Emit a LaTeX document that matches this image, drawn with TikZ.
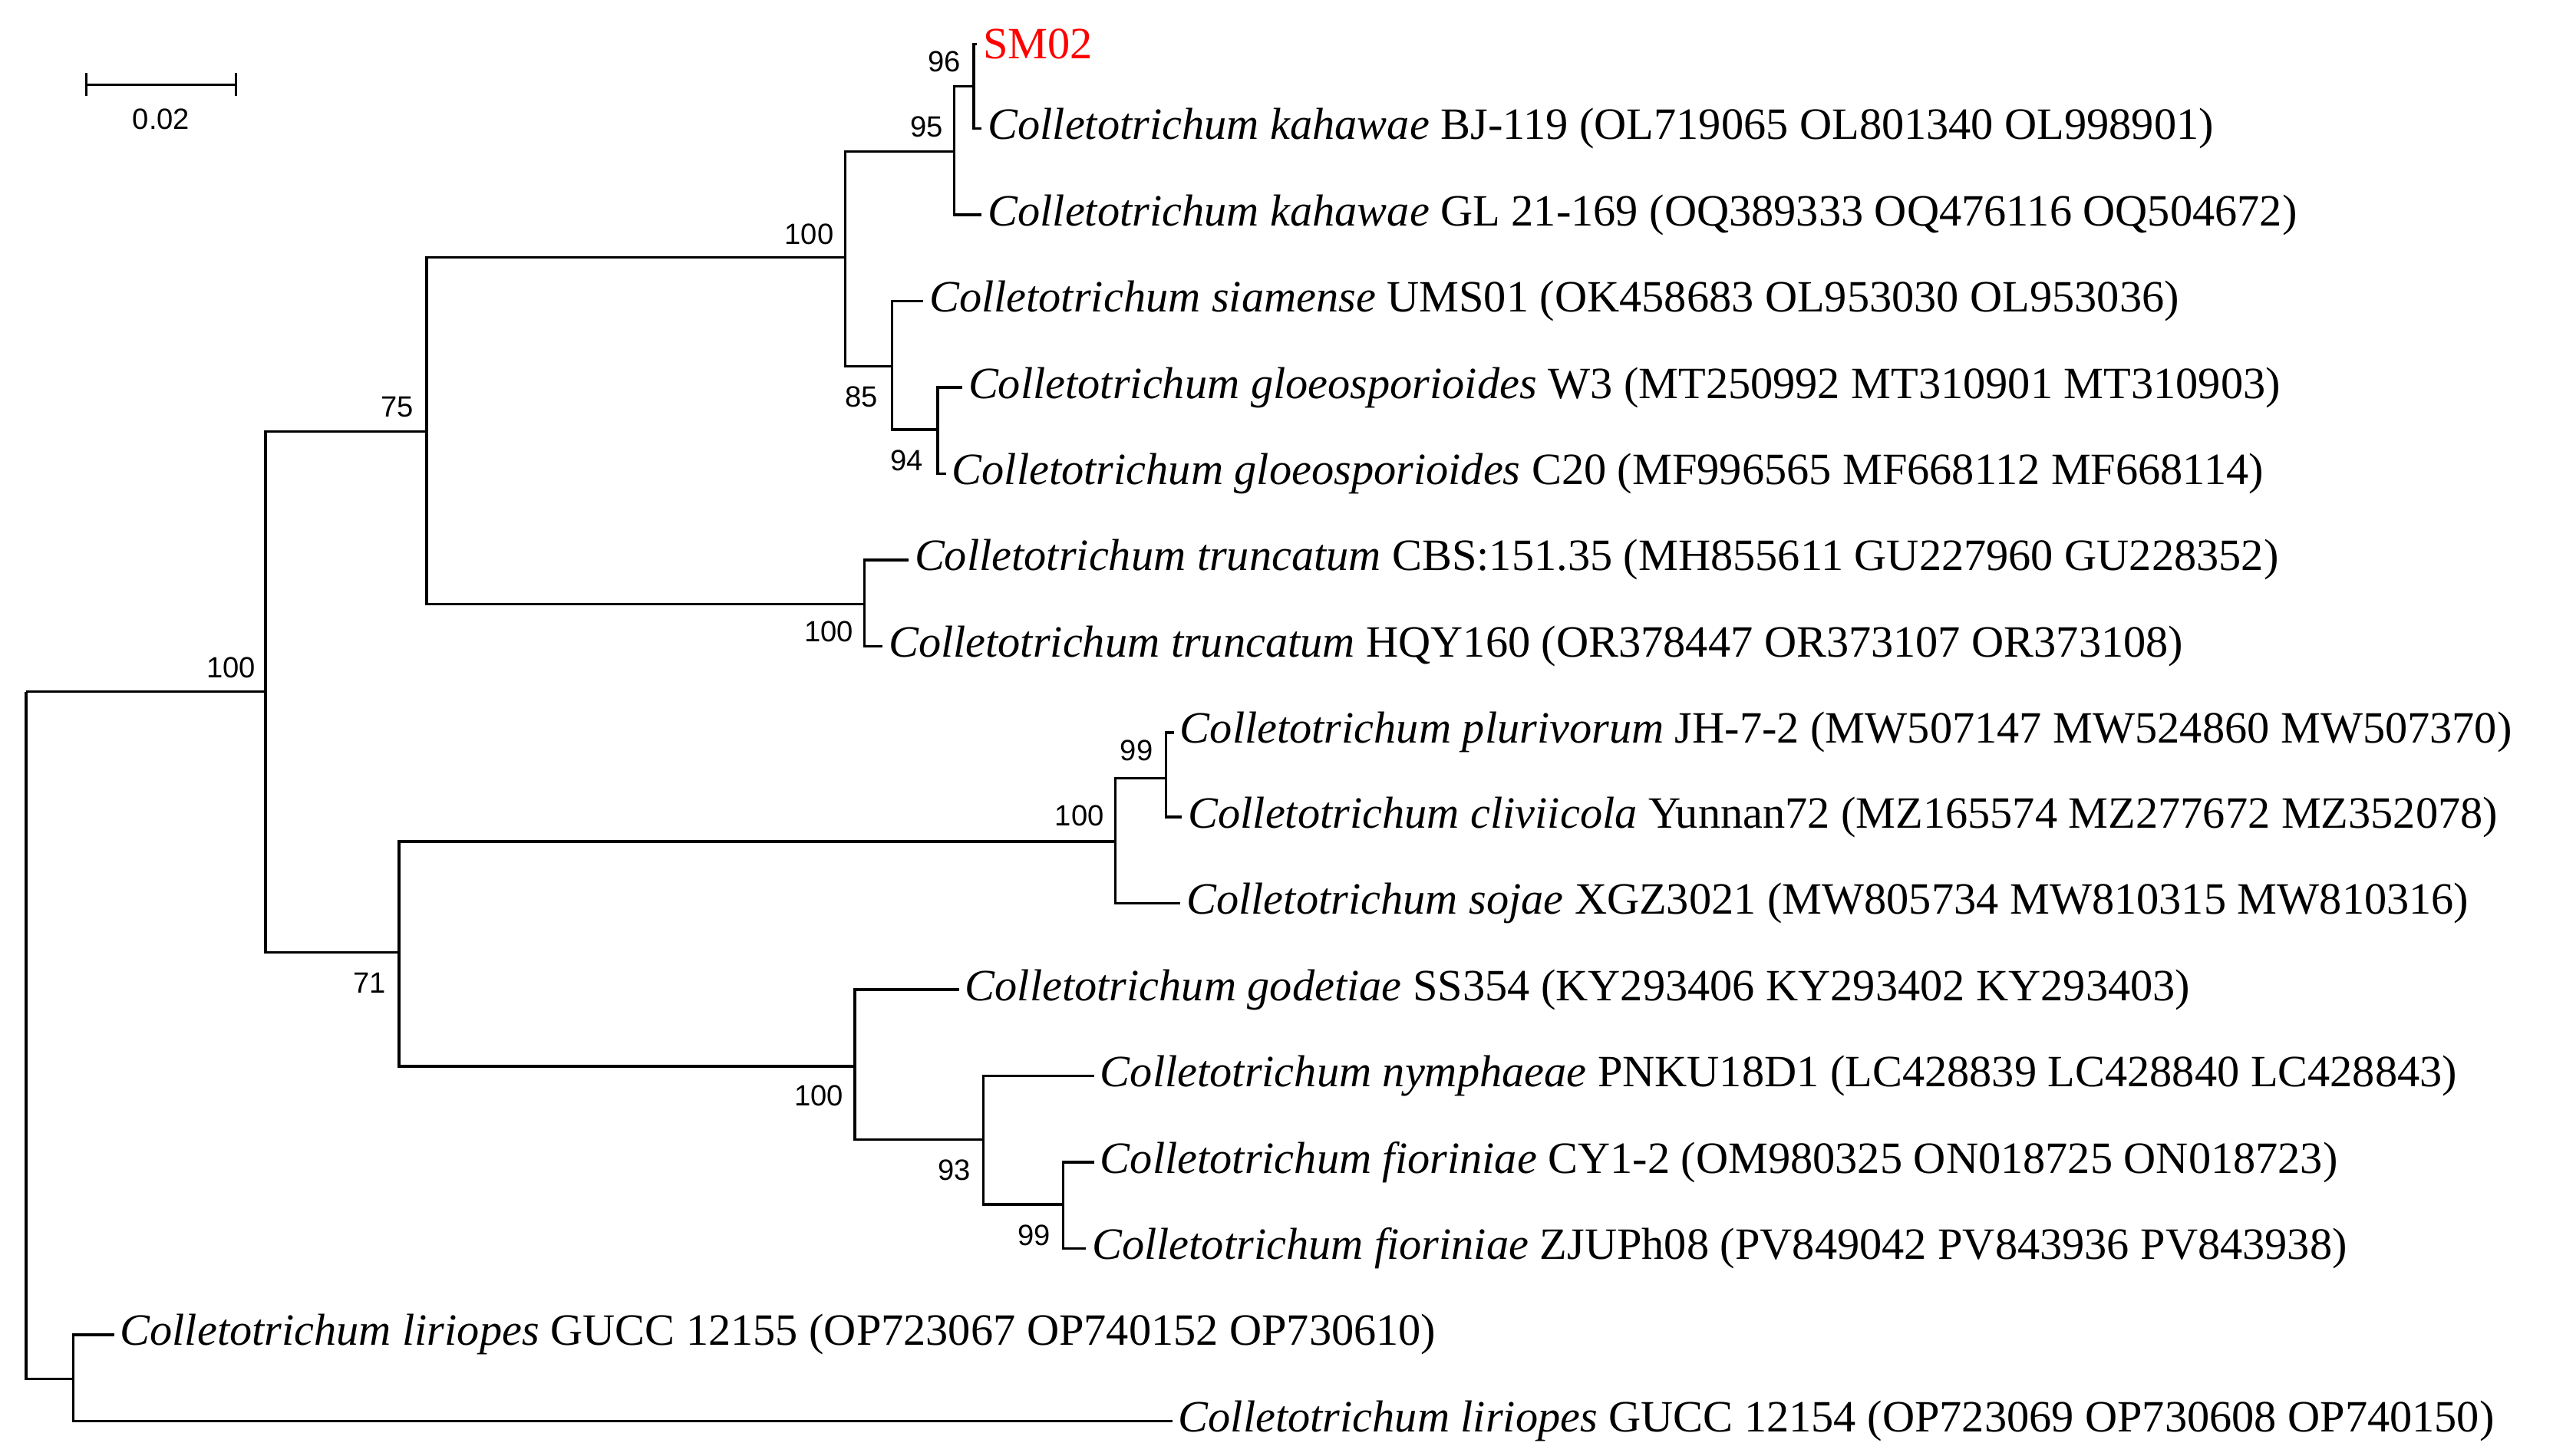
\documentclass[tikz,border=0pt]{standalone}
\usepackage{fontspec}
\setmainfont{Liberation Serif}
\newfontfamily\bsfont{Liberation Sans}
\begin{document}
\begin{tikzpicture}[x=1pt,y=-1pt,line width=1.6pt,
 leaf/.style={anchor=west,inner sep=3pt,font=\fontsize{27.5}{30}\selectfont},
 bs/.style={font=\bsfont\fontsize{18}{20}\selectfont,inner sep=1pt}]
\useasboundingbox (0,0) rectangle (1568,894.5);
% internal nodes
\coordinate (r) at (16,425);
\coordinate (a) at (163,425);
\coordinate (l) at (45,847);
\coordinate (b) at (262,265);
\coordinate (c) at (519,158);
\coordinate (d) at (586,93);
\coordinate (e) at (598,53);
\coordinate (f) at (548,225);
\coordinate (g) at (576,264);
\coordinate (h) at (531,371);
\coordinate (i) at (245,585);
\coordinate (j) at (685,517);
\coordinate (k) at (716,478);
\coordinate (m) at (525,655);
\coordinate (n) at (604,700);
\coordinate (o) at (653,740);
% leaves
\node[leaf,text=red] (L1) at (600,27) {SM02};
\node[leaf] (L2) at (603,79) {\textit{Colletotrichum kahawae} BJ-119 (OL719065 OL801340 OL998901)};
\node[leaf] (L3) at (603,132) {\textit{Colletotrichum kahawae} GL 21-169 (OQ389333 OQ476116 OQ504672)};
\node[leaf] (L4) at (567,185) {\textit{Colletotrichum siamense} UMS01 (OK458683 OL953030 OL953036)};
\node[leaf] (L5) at (591,238) {\textit{Colletotrichum gloeosporioides} W3 (MT250992 MT310901 MT310903)};
\node[leaf] (L6) at (581,291) {\textit{Colletotrichum gloeosporioides} C20 (MF996565 MF668112 MF668114)};
\node[leaf] (L7) at (558,344) {\textit{Colletotrichum truncatum} CBS:151.35 (MH855611 GU227960 GU228352)};
\node[leaf] (L8) at (542,397) {\textit{Colletotrichum truncatum} HQY160 (OR378447 OR373107 OR373108)};
\node[leaf] (L9) at (721,450) {\textit{Colletotrichum plurivorum} JH-7-2 (MW507147 MW524860 MW507370)};
\node[leaf] (L10) at (726,502) {\textit{Colletotrichum cliviicola} Yunnan72 (MZ165574 MZ277672 MZ352078)};
\node[leaf] (L11) at (725,555) {\textit{Colletotrichum sojae} XGZ3021 (MW805734 MW810315 MW810316)};
\node[leaf] (L12) at (589,608) {\textit{Colletotrichum godetiae} SS354 (KY293406 KY293402 KY293403)};
\node[leaf] (L13) at (672,661) {\textit{Colletotrichum nymphaeae} PNKU18D1 (LC428839 LC428840 LC428843)};
\node[leaf] (L14) at (672,714) {\textit{Colletotrichum fioriniae} CY1-2 (OM980325 ON018725 ON018723)};
\node[leaf] (L15) at (667,767) {\textit{Colletotrichum fioriniae} ZJUPh08 (PV849042 PV843936 PV843938)};
\node[leaf] (L16) at (70,820) {\textit{Colletotrichum liriopes} GUCC 12155 (OP723067 OP740152 OP730610)};
\node[leaf] (L17) at (720,873) {\textit{Colletotrichum liriopes} GUCC 12154 (OP723069 OP730608 OP740150)};
% edges
\draw (r) |- (a); \draw (r) |- (l);
\draw (l) |- (L16.west); \draw (l) |- (L17.west);
\draw (a) |- (b); \draw (a) |- (i);
\draw (b) |- (c); \draw (b) |- (h);
\draw (c) |- (d); \draw (c) |- (f);
\draw (d) |- (e); \draw (d) |- (L3.west);
\draw (e) |- (L1.west); \draw (e) |- (L2.west);
\draw (f) |- (L4.west); \draw (f) |- (g);
\draw (g) |- (L5.west); \draw (g) |- (L6.west);
\draw (h) |- (L7.west); \draw (h) |- (L8.west);
\draw (i) |- (j); \draw (i) |- (m);
\draw (j) |- (k); \draw (j) |- (L11.west);
\draw (k) |- (L9.west); \draw (k) |- (L10.west);
\draw (m) |- (L12.west); \draw (m) |- (n);
\draw (n) |- (L13.west); \draw (n) |- (o);
\draw (o) |- (L14.west); \draw (o) |- (L15.west);
% bootstrap
\node[bs] (s1) at (142,410) {100};
\node[bs] (s2) at (244,250) {75};
\node[bs] (s3) at (497,144) {100};
\node[bs] (s4) at (569,78) {95};
\node[bs] (s5) at (580,38) {96};
\node[bs] (s6) at (529,244) {85};
\node[bs] (s7) at (557,283) {94};
\node[bs] (s8) at (509,388) {100};
\node[bs] (s9) at (227,604) {71};
\node[bs] (s10) at (663,501) {100};
\node[bs] (s11) at (698,461) {99};
\node[bs] (s12) at (503,673) {100};
\node[bs] (s13) at (586,719) {93};
\node[bs] (s14) at (635,759) {99};
% scale bar
\coordinate (sb1) at (53,52); \coordinate (sb2) at (145,52);
\draw (sb1) -- (sb2);
\draw ([yshift=-7]sb1) -- ([yshift=7]sb1);
\draw ([yshift=-7]sb2) -- ([yshift=7]sb2);
\node[bs] (sbl) at (99,73) {0.02};
\end{tikzpicture}
\end{document}
